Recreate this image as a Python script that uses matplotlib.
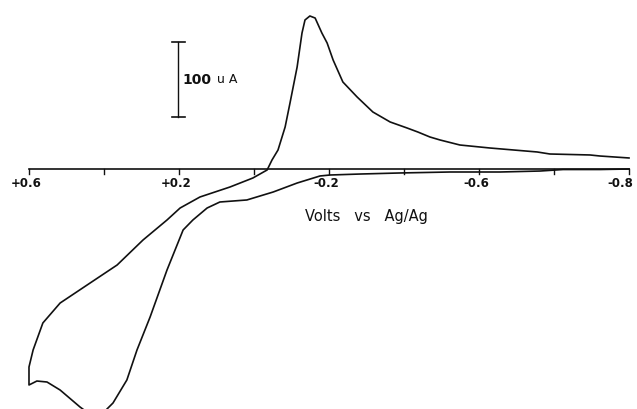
import matplotlib
matplotlib.use("Agg")
import matplotlib.pyplot as plt

# Upper (anodic) branch: potential (V) and current (uA)
v_upper = [-1.0, -0.923, -0.896, -0.789, -0.755, -0.629, -0.549, -0.496, -0.469, -0.437,
           -0.408, -0.363, -0.317, -0.275, -0.237, -0.211, -0.195, -0.181, -0.163, -0.149,
           -0.136, -0.128, -0.115, -0.096, -0.083, -0.064, -0.048, -0.035, 0.003, 0.064,
           0.144, 0.197, 0.232, 0.296, 0.365, 0.437, 0.517, 0.563, 0.589, 0.6,
           0.6, 0.579, 0.552, 0.517, 0.464, 0.424]
i_upper = [14.7, 17.3, 18.7, 20.0, 22.7, 28.0, 32.0, 38.7, 42.7, 49.3,
           54.7, 62.7, 76.0, 96.0, 116.0, 145.3, 168.0, 181.3, 201.3, 204.0,
           198.7, 181.3, 136.0, 88.0, 56.0, 25.3, 12.0, -1.3, -12.0, -24.0,
           -37.3, -52.0, -68.0, -94.7, -128.0, -152.0, -178.7, -205.3, -241.3, -264.0,
           -288.0, -282.7, -284.0, -294.7, -317.3, -332.0]

# Lower (return) branch
v_lower = [0.411, 0.392, 0.376, 0.339, 0.312, 0.277, 0.232, 0.189, 0.163, 0.125,
           0.091, 0.019, -0.051, -0.115, -0.176, -0.203, -0.283, -0.389, -0.523, -0.656,
           -0.763, -0.824, -0.923, -1.0]
i_lower = [-332.0, -320.0, -312.0, -281.3, -241.3, -197.3, -134.7, -81.3, -68.0, -52.0,
           -44.0, -41.3, -30.7, -18.7, -9.3, -8.0, -6.7, -5.3, -4.0, -4.0,
           -2.7, -0.7, -0.7, 0.0]

tick_pos = [0.6, 0.4, 0.2, 0.0, -0.2, -0.4, -0.6, -0.8, -1.0]
label_pos = [0.6, 0.2, -0.2, -0.6, -1.0]
label_txt = ["+0.6", "+0.2", "-0.2", "-0.6", "-0.8"]

ink = "#111111"
fig = plt.figure(figsize=(6.37, 4.09), dpi=100)
ax = fig.add_axes([0, 0, 1, 1])
ax.set_xlim(0.6773, -1.0213)
ax.set_ylim(-320, 225.33)
ax.axis("off")

ax.plot(v_upper, i_upper, color=ink, lw=1.2, solid_joinstyle="round")
ax.plot(v_lower, i_lower, color=ink, lw=1.2, solid_joinstyle="round")

# potential axis
ax.plot([tick_pos[0], tick_pos[-1]], [0, 0], color=ink, lw=1.2)
for t in tick_pos:
    ax.plot([t, t], [0, -6.5], color=ink, lw=1.0)
for k, (p, s) in enumerate(zip(label_pos, label_txt)):
    off = 0.008 if k < len(label_pos) - 1 else 0.022
    ax.text(p + off, -19, s, ha="center", va="center", fontsize=8.5,
            fontweight="bold", color=ink)

ax.text(-0.299, -64, "Volts   vs   Ag/Ag", ha="center", va="center",
        fontsize=10.5, color=ink)

# current scale bar: 100 uA
sb_v = 0.203
sb_bottom, sb_top = 69.3, 169.3
ax.plot([sb_v, sb_v], [sb_bottom, sb_top], color=ink, lw=1.0)
for yy in (sb_bottom, sb_top):
    ax.plot([sb_v + 0.016, sb_v - 0.019], [yy, yy], color=ink, lw=1.2)
ax.text(0.192, 118.7, "100", ha="left", va="center", fontsize=10,
        fontweight="bold", color=ink)
ax.text(0.098, 118.7, "u A", ha="left", va="center", fontsize=9, color=ink)

fig.savefig("out.png", dpi=100)
